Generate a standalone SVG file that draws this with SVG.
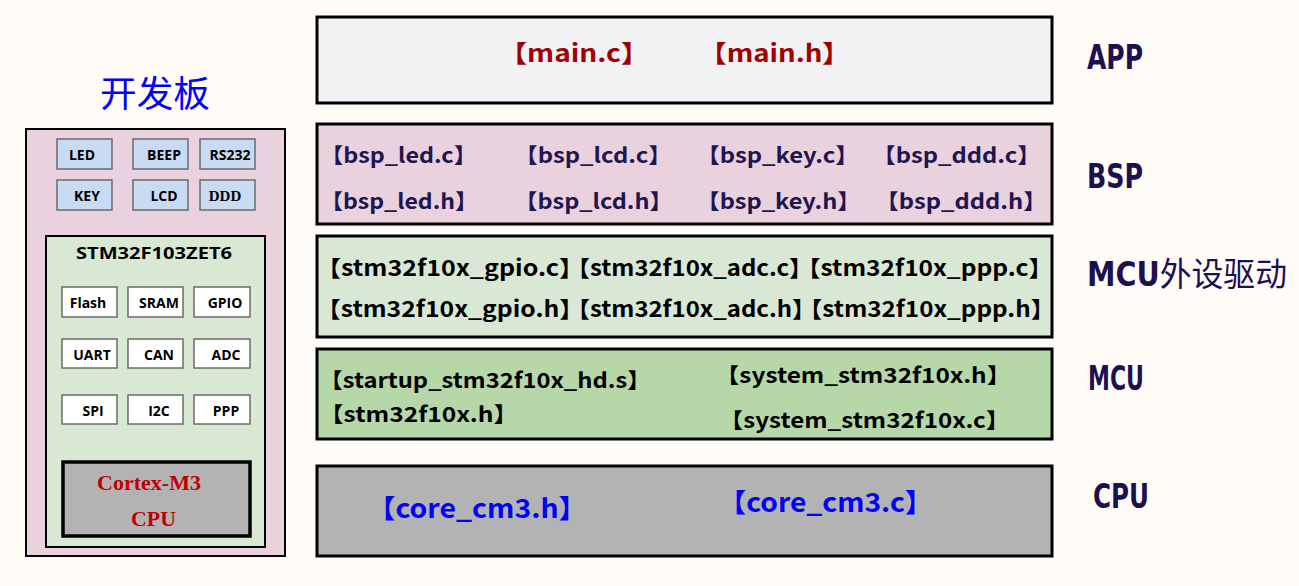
<svg xmlns="http://www.w3.org/2000/svg" width="1299" height="586" viewBox="0 0 1299 586">
<style>
.bg{fill:#FFFCF8}
.layer{stroke:#000;stroke-width:3}
.sm{stroke:#6b6b6b;stroke-width:1.5}
.ft{font-family:"Noto Sans CJK SC","Noto Sans",sans-serif;font-weight:bold}
.lbl{font-family:"Open Sans","Noto Sans",sans-serif;font-weight:bold;font-size:14px;fill:#000;text-anchor:middle}
.side{font-family:"DejaVu Sans Condensed","DejaVu Sans",sans-serif;font-weight:bold;font-size:33px;fill:#1C1050}
.cjk{font-family:"Noto Sans CJK SC",sans-serif;font-weight:normal}
.ser{font-family:"Liberation Serif",serif;font-weight:bold}
.chipt{font-family:"Open Sans","Noto Sans",sans-serif;font-weight:bold;font-size:16px;fill:#000}
</style>
<rect class="bg" x="0" y="0" width="1299" height="586"/>

<g id="board">
  <text x="155" y="107" text-anchor="middle" font-family="Noto Sans CJK SC,sans-serif" font-size="36" fill="#0000FF" textLength="110" lengthAdjust="spacingAndGlyphs">开发板</text>
  <rect x="26" y="129" width="259" height="427" fill="#E9D1DD" stroke="#000" stroke-width="2"/>
  <g id="board-periph">
    <rect class="sm" x="57" y="139" width="55" height="30" fill="#C9DAF5"/>
    <rect class="sm" x="133" y="139" width="55" height="30" fill="#C9DAF5"/>
    <rect class="sm" x="200" y="139" width="55" height="30" fill="#C9DAF5"/>
    <rect class="sm" x="57" y="180" width="55" height="30" fill="#C9DAF5"/>
    <rect class="sm" x="133" y="180" width="55" height="30" fill="#C9DAF5"/>
    <rect class="sm" x="200" y="180" width="55" height="30" fill="#C9DAF5"/>
    <text class="lbl" x="82" y="160">LED</text>
    <text class="lbl" x="164" y="160">BEEP</text>
    <text class="lbl" x="230" y="160">RS232</text>
    <text class="lbl" x="87" y="201">KEY</text>
    <text class="lbl" x="164" y="201">LCD</text>
    <text class="ser" x="225" y="201" font-size="15" text-anchor="middle">DDD</text>
  </g>
  <g id="chip">
    <rect x="46" y="236" width="219" height="311" fill="#D8E8D3" stroke="#000" stroke-width="2"/>
    <text class="chipt" x="76" y="259" textLength="156" lengthAdjust="spacingAndGlyphs">STM32F103ZET6</text>
    <rect class="sm" x="62" y="287" width="55" height="30" fill="#fff"/>
    <rect class="sm" x="128" y="287" width="55" height="30" fill="#fff"/>
    <rect class="sm" x="194" y="287" width="56" height="30" fill="#fff"/>
    <rect class="sm" x="62" y="339" width="55" height="29" fill="#fff"/>
    <rect class="sm" x="128" y="339" width="55" height="29" fill="#fff"/>
    <rect class="sm" x="194" y="339" width="56" height="29" fill="#fff"/>
    <rect class="sm" x="62" y="395" width="55" height="29" fill="#fff"/>
    <rect class="sm" x="128" y="395" width="55" height="29" fill="#fff"/>
    <rect class="sm" x="194" y="395" width="56" height="29" fill="#fff"/>
    <text class="lbl" x="88" y="308">Flash</text>
    <text class="lbl" x="159" y="308">SRAM</text>
    <text class="lbl" x="225" y="308">GPIO</text>
    <text class="lbl" x="92" y="360">UART</text>
    <text class="lbl" x="159" y="360">CAN</text>
    <text class="lbl" x="226" y="360">ADC</text>
    <text class="lbl" x="93" y="416">SPI</text>
    <text class="lbl" x="159" y="416">I2C</text>
    <text class="lbl" x="226" y="416">PPP</text>
    <g id="cortex">
      <rect x="63" y="462" width="187" height="74" fill="#B3B3B3" stroke="#000" stroke-width="3.5"/>
      <text class="ser" x="97" y="490" font-size="21" fill="#C00000" textLength="104" lengthAdjust="spacingAndGlyphs">Cortex-M3</text>
      <text class="ser" x="131" y="526" font-size="21" fill="#C00000" textLength="45" lengthAdjust="spacingAndGlyphs">CPU</text>
    </g>
  </g>
</g>

<g id="app">
  <rect class="layer" x="317" y="17" width="735" height="86" fill="#F2F2F4"/>
  <text class="ft" x="499" y="62" font-size="24" fill="#A00000" textLength="150" lengthAdjust="spacingAndGlyphs">【main.c】</text>
  <text class="ft" x="699" y="62" font-size="24" fill="#A00000" textLength="151" lengthAdjust="spacingAndGlyphs">【main.h】</text>
</g>

<g id="bsp">
  <rect class="layer" x="317" y="124" width="735" height="100" fill="#E9D1DD"/>
  <g fill="#1F1550" font-size="21">
    <text class="ft" x="320" y="163" textLength="157" lengthAdjust="spacingAndGlyphs">【bsp_led.c】</text>
    <text class="ft" x="514" y="163" textLength="158" lengthAdjust="spacingAndGlyphs">【bsp_lcd.c】</text>
    <text class="ft" x="696" y="163" textLength="163" lengthAdjust="spacingAndGlyphs">【bsp_key.c】</text>
    <text class="ft" x="872" y="163" textLength="169" lengthAdjust="spacingAndGlyphs">【bsp_ddd.c】</text>
    <text class="ft" x="320" y="209" textLength="158" lengthAdjust="spacingAndGlyphs">【bsp_led.h】</text>
    <text class="ft" x="514" y="209" textLength="159" lengthAdjust="spacingAndGlyphs">【bsp_lcd.h】</text>
    <text class="ft" x="696" y="209" textLength="165" lengthAdjust="spacingAndGlyphs">【bsp_key.h】</text>
    <text class="ft" x="875" y="209" textLength="172" lengthAdjust="spacingAndGlyphs">【bsp_ddd.h】</text>
  </g>
</g>

<g id="mcu-periph">
  <rect class="layer" x="317" y="236" width="735" height="101" fill="#D9E8D4"/>
  <g fill="#000" font-size="22">
    <text class="ft" x="316" y="276" textLength="268" lengthAdjust="spacingAndGlyphs">【stm32f10x_gpio.c】</text>
    <text class="ft" x="566" y="276" textLength="247" lengthAdjust="spacingAndGlyphs">【stm32f10x_adc.c】</text>
    <text class="ft" x="796" y="276" textLength="257" lengthAdjust="spacingAndGlyphs">【stm32f10x_ppp.c】</text>
    <text class="ft" x="316" y="317" textLength="268" lengthAdjust="spacingAndGlyphs">【stm32f10x_gpio.h】</text>
    <text class="ft" x="566" y="317" textLength="250" lengthAdjust="spacingAndGlyphs">【stm32f10x_adc.h】</text>
    <text class="ft" x="798" y="317" textLength="257" lengthAdjust="spacingAndGlyphs">【stm32f10x_ppp.h】</text>
  </g>
</g>

<g id="mcu">
  <rect class="layer" x="317" y="349" width="735" height="90" fill="#B6D7A8"/>
  <g fill="#000" font-size="21">
    <text class="ft" x="319" y="388" textLength="332" lengthAdjust="spacingAndGlyphs">【startup_stm32f10x_hd.s】</text>
    <text class="ft" x="319" y="422" textLength="199" lengthAdjust="spacingAndGlyphs">【stm32f10x.h】</text>
    <text class="ft" x="715" y="383" textLength="296" lengthAdjust="spacingAndGlyphs">【system_stm32f10x.h】</text>
    <text class="ft" x="719" y="428" textLength="291" lengthAdjust="spacingAndGlyphs">【system_stm32f10x.c】</text>
  </g>
</g>

<g id="cpu">
  <rect class="layer" x="317" y="466" width="735" height="90" fill="#B3B3B3"/>
  <g fill="#0000FF" font-size="26">
    <text class="ft" x="367" y="518" textLength="220" lengthAdjust="spacingAndGlyphs">【core_cm3.h】</text>
    <text class="ft" x="718" y="512" textLength="215" lengthAdjust="spacingAndGlyphs">【core_cm3.c】</text>
  </g>
</g>

<g id="labels">
  <text class="side" x="1087" y="69" textLength="56" lengthAdjust="spacingAndGlyphs">APP</text>
  <text class="side" x="1087" y="188" textLength="56" lengthAdjust="spacingAndGlyphs">BSP</text>
  <text class="side" x="1087" y="286" textLength="200" lengthAdjust="spacingAndGlyphs">MCU<tspan class="cjk">外设驱动</tspan></text>
  <text class="side" x="1088" y="390" textLength="56" lengthAdjust="spacingAndGlyphs">MCU</text>
  <text class="side" x="1093" y="508" textLength="56" lengthAdjust="spacingAndGlyphs">CPU</text>
</g>
</svg>
